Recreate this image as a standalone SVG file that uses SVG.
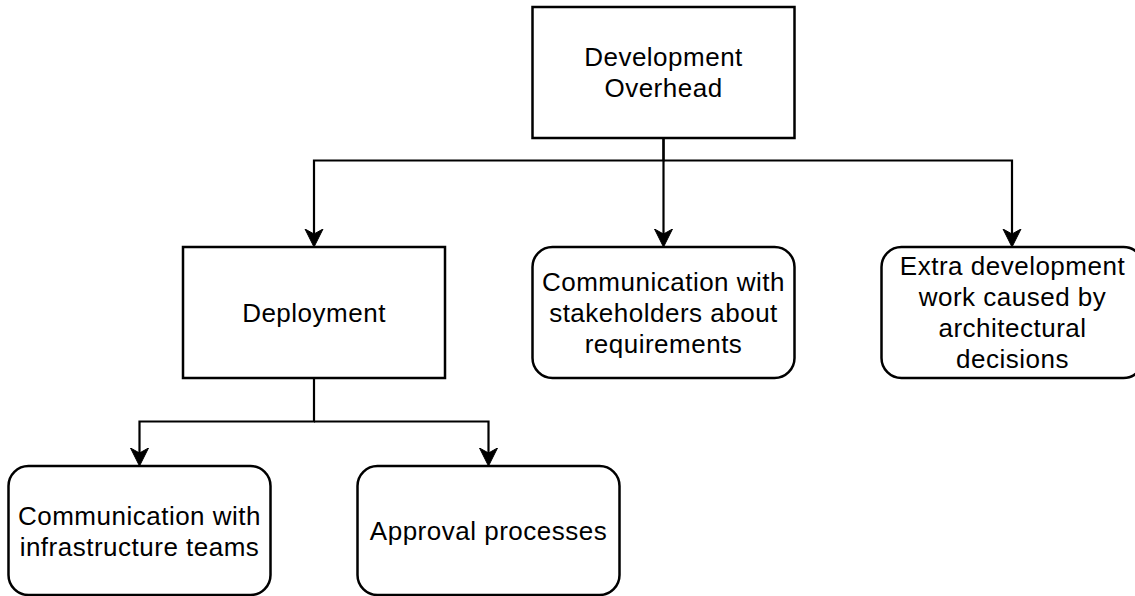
<svg xmlns="http://www.w3.org/2000/svg" width="1135" height="596" viewBox="0 0 1135 596">
<style>
  .box { fill: #ffffff; stroke: #000000; stroke-width: 2.5; }
  .lbl { font-family: "Liberation Sans", Arial, sans-serif; font-size: 26px; letter-spacing: 0.5px; fill: #000000; text-anchor: middle; }
  .edge { fill: none; stroke: #000000; stroke-width: 2.2; }
</style>
<defs>
  <marker id="arrow" viewBox="0 -10 20 20" refX="5" refY="0" markerWidth="20" markerHeight="20" markerUnits="userSpaceOnUse" orient="auto">
    <path d="M0,-9 L18,0 L0,9 L5,0 Z" fill="#000000" stroke="#000000" stroke-width="1"/>
  </marker>
</defs>
<rect width="1135" height="596" fill="#ffffff"/>
<g id="connectors">
  <path class="edge" d="M663.5,138 V160.5 H314 V234" marker-end="url(#arrow)"/>
  <path class="edge" d="M663.5,138 V234" marker-end="url(#arrow)"/>
  <path class="edge" d="M663.5,160.5 H1012 V234" marker-end="url(#arrow)"/>
  <path class="edge" d="M314,378 V421.5 H139.5 V453" marker-end="url(#arrow)"/>
  <path class="edge" d="M314,421.5 H488.5 V453" marker-end="url(#arrow)"/>
</g>
<g id="node-overhead">
  <rect class="box" x="532.5" y="7" width="262" height="131"/>
  <text class="lbl" x="663.5" y="66">Development</text>
  <text class="lbl" x="663.5" y="97">Overhead</text>
</g>
<g id="node-deployment">
  <rect class="box" x="183" y="247" width="262" height="131"/>
  <text class="lbl" x="314" y="321.5">Deployment</text>
</g>
<g id="node-stakeholders">
  <rect class="box" x="532.5" y="247" width="262" height="131" rx="20" ry="20"/>
  <text class="lbl" x="663.5" y="290.5">Communication with</text>
  <text class="lbl" x="663.5" y="321.5">stakeholders about</text>
  <text class="lbl" x="663.5" y="352.5">requirements</text>
</g>
<g id="node-extra">
  <rect class="box" x="881.5" y="247" width="262" height="131" rx="20" ry="20"/>
  <text class="lbl" x="1012.5" y="275">Extra development</text>
  <text class="lbl" x="1012.5" y="306">work caused by</text>
  <text class="lbl" x="1012.5" y="337">architectural</text>
  <text class="lbl" x="1012.5" y="368">decisions</text>
</g>
<g id="node-infra">
  <rect class="box" x="8.5" y="466" width="262" height="129" rx="20" ry="20"/>
  <text class="lbl" x="139.5" y="524.5">Communication with</text>
  <text class="lbl" x="139.5" y="555.5">infrastructure teams</text>
</g>
<g id="node-approval">
  <rect class="box" x="357.5" y="466" width="262" height="129" rx="20" ry="20"/>
  <text class="lbl" x="488.5" y="540">Approval processes</text>
</g>
</svg>
